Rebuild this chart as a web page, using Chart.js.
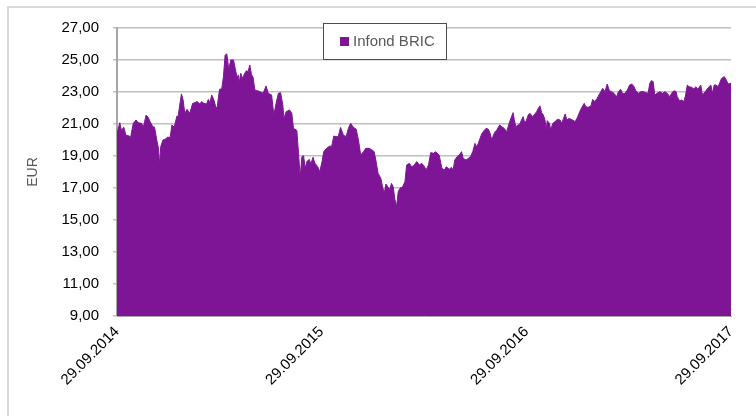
<!DOCTYPE html>
<html>
<head>
<meta charset="utf-8">
<script src="https://cdn.jsdelivr.net/npm/chart.js@4/dist/chart.umd.min.js"></script>
<style>
  html, body { margin: 0; padding: 0; background: #ffffff; }
  #wrap { width: 756px; height: 416px; }
</style>
</head>
<body>
<div id="wrap"><canvas id="c" width="756" height="416"></canvas></div>
<script>
// ---- data ----
const seriesName = 'Infond BRIC';
const yAxisTitle = 'EUR';
// trading-day positions, as days after 29.09.2014
const dayOffsets = [0,5,8,12,16,22,24,29,34,38,44,47,52,56,59,64,67,71,74,76,78,82,86,90,95,98,102,107,109,112,115,118,121,125,130,135,139,143,148,151,155,160,163,166,169,173,177,179,183,187,190,193,196,199,200,203,208,211,214,217,218,221,224,228,231,234,237,240,243,246,249,254,
261,266,270,276,280,284,288,292,296,298,302,308,312,315,321,324,327,330,333,336,339,343,346,350,353,358,362,366,369,374,380,383,387,391,395,399,404,409,413,417,422,427,431,435,440,444,450,455,459,462,466,471,474,477,480,484,487,490,493,496,499,502,505,510,514,517,522,526,530,
535,540,544,548,552,556,560,565,569,575,580,584,588,593,597,600,603,607,611,615,618,623,627,631,635,639,642,645,648,651,655,659,663,666,669,672,675,678,683,687,691,696,699,702,707,709,712,716,719,722,725,728,731,734,737,742,746,749,752,755,758,761,764,766,768,772,774,778,782,786,791,794,797,800,803,807,
813,818,822,826,829,834,837,841,846,849,853,857,862,867,871,875,879,883,887,892,895,899,903,907,911,915,919,923,926,931,935,940,944,948,951,954,957,960,964,969,974,978,982,987,990,994,998,1000,1004,1008,1012,1015,1018,1021,1026,1030,1033,1037,1042,1045,1050,1053,1057,1060,1063,1066,1069,1073,1076,1079,1084,1087,1091,1096];
const navValues = [20.42,21.08,20.6,20.8,20.3,20.25,20.1,21.04,21.25,21.08,21.04,20.8,21.56,21.4,21.15,20.83,20.8,20.0,19.48,18.44,19.58,20.0,20.05,20.17,20.17,20.94,20.8,21.5,21.45,22.19,22.88,22.5,21.67,21.92,21.67,22.29,22.33,22.4,22.25,22.4,22.29,22.25,22.54,22.33,22.81,22.5,21.98,22.1,23.17,23.2,23.96,25.31,25.38,24.58,24.48,25.0,25.0,24.48,23.96,24.06,23.54,24.17,23.85,24.17,24.33,24.27,24.69,24.1,23.9,23.13,23.1,23.04,
22.92,23.38,22.92,22.81,21.56,22.29,22.92,22.96,22.19,21.35,21.77,21.88,21.67,20.73,20.6,19.17,17.71,18.96,19.02,18.23,18.65,18.79,18.52,18.92,18.56,18.35,18.02,18.65,19.27,19.48,19.63,19.58,20.25,20.21,20.21,20.79,20.31,20.21,20.73,21.04,20.79,20.67,20.0,19.06,19.27,19.48,19.48,19.38,19.27,18.75,17.92,17.6,17.08,16.67,17.25,17.04,16.92,17.29,17.08,16.29,15.83,16.77,16.98,17.08,17.4,18.44,18.54,18.33,18.4,
18.65,18.44,18.54,18.38,18.13,18.44,19.21,19.17,19.27,19.06,18.23,18.13,18.33,18.17,18.29,18.13,18.75,18.96,19.06,19.27,18.85,18.75,18.85,18.96,19.27,19.79,19.58,19.79,20.1,20.38,20.58,20.73,20.67,20.42,20.0,20.31,20.52,20.63,20.94,20.83,20.73,20.52,20.94,21.25,21.71,21.29,20.83,20.94,21.0,21.25,21.46,21.04,21.25,21.56,21.67,21.46,21.63,21.77,21.98,22.13,21.71,21.56,21.25,20.63,21.21,21.04,20.63,21.04,21.15,21.29,21.25,21.04,21.35,21.63,21.25,21.35,
21.25,21.15,21.42,21.77,21.98,22.29,22.08,22.04,22.13,22.54,22.4,22.6,22.92,23.23,23.02,23.5,23.08,23.02,22.92,22.71,23.02,23.17,22.88,22.92,23.13,23.44,23.5,23.33,23.08,22.92,23.02,23.02,22.96,22.92,23.54,23.71,23.65,22.81,22.92,23.02,22.92,23.02,22.92,22.71,22.92,23.08,23.02,22.71,22.46,22.5,22.4,22.81,23.44,23.33,23.29,23.17,23.33,23.17,23.44,22.81,23.02,23.17,23.33,23.44,22.92,23.44,23.44,23.33,23.58,23.85,23.96,23.79,23.5,23.54];
const tickDays = [0, 365, 731, 1096];
const tickLabels = ['29.09.2014', '29.09.2015', '29.09.2016', '29.09.2017'];
const yMin = 9, yMax = 27, yStep = 2;

// ---- styles ----
const PURPLE = 'rgb(126,21,150)';
const FONT = "'Liberation Sans', Arial, sans-serif";

const points = dayOffsets.map((d, i) => ({ x: d, y: navValues[i] }));

const frameAndLegend = {
  id: 'frameAndLegend',
  beforeDraw(chart) {
    const ctx = chart.ctx;
    ctx.save();
    ctx.strokeStyle = '#d9d9d9';
    ctx.lineWidth = 2;
    ctx.strokeRect(8, 7, 800, 460);
    ctx.restore();
  },
  afterDraw(chart) {
    const ctx = chart.ctx;
    ctx.save();
    ctx.fillStyle = '#ffffff';
    ctx.fillRect(323, 23, 124, 36);
    ctx.strokeStyle = '#4d4d4d';
    ctx.lineWidth = 1;
    ctx.strokeRect(323.5, 23.5, 123, 36);
    ctx.fillStyle = PURPLE;
    ctx.fillRect(340, 37, 9, 9);
    ctx.fillStyle = '#595959';
    ctx.font = '15px ' + FONT;
    ctx.textBaseline = 'middle';
    ctx.textAlign = 'left';
    ctx.fillText(seriesName, 353, 42);
    ctx.restore();
  }
};

new Chart(document.getElementById('c'), {
  type: 'line',
  data: {
    datasets: [{
      label: seriesName,
      data: points,
      borderColor: PURPLE,
      backgroundColor: PURPLE,
      borderWidth: 1,
      pointRadius: 0,
      tension: 0,
      fill: 'start'
    }]
  },
  options: {
    responsive: false,
    animation: false,
    devicePixelRatio: 1,
    layout: { padding: { top: 28, right: 25, left: 0, bottom: 0 } },
    plugins: { legend: { display: false }, tooltip: { enabled: false } },
    scales: {
      x: {
        type: 'linear',
        min: tickDays[0],
        max: tickDays[tickDays.length - 1],
        afterBuildTicks(scale) { scale.ticks = tickDays.map(v => ({ value: v })); },
        afterFit(scale) { scale.height = 100; },
        grid: { display: false, drawTicks: false },
        border: { display: true, color: '#a6a6a6', width: 1 },
        ticks: {
          autoSkip: false,
          minRotation: 45,
          maxRotation: 45,
          padding: 7,
          color: '#000000',
          font: { family: FONT, size: 15 },
          callback(value) {
            const i = tickDays.indexOf(value);
            return i >= 0 ? tickLabels[i] : '';
          }
        }
      },
      y: {
        min: yMin,
        max: yMax,
        afterFit(scale) { scale.width = 117; },
        grid: { color: '#bfbfbf', lineWidth: 1.5, drawTicks: true, tickLength: 4 },
        border: { display: true, color: '#a6a6a6', width: 2 },
        ticks: {
          stepSize: yStep,
          padding: 14,
          color: '#000000',
          font: { family: FONT, size: 15 },
          callback(v) { return v.toFixed(2).replace('.', ','); }
        },
        title: {
          display: true,
          text: yAxisTitle,
          color: '#595959',
          font: { family: FONT, size: 14 },
          padding: { top: 25, bottom: 0 }
        }
      }
    }
  },
  plugins: [frameAndLegend]
});
</script>
</body>
</html>
